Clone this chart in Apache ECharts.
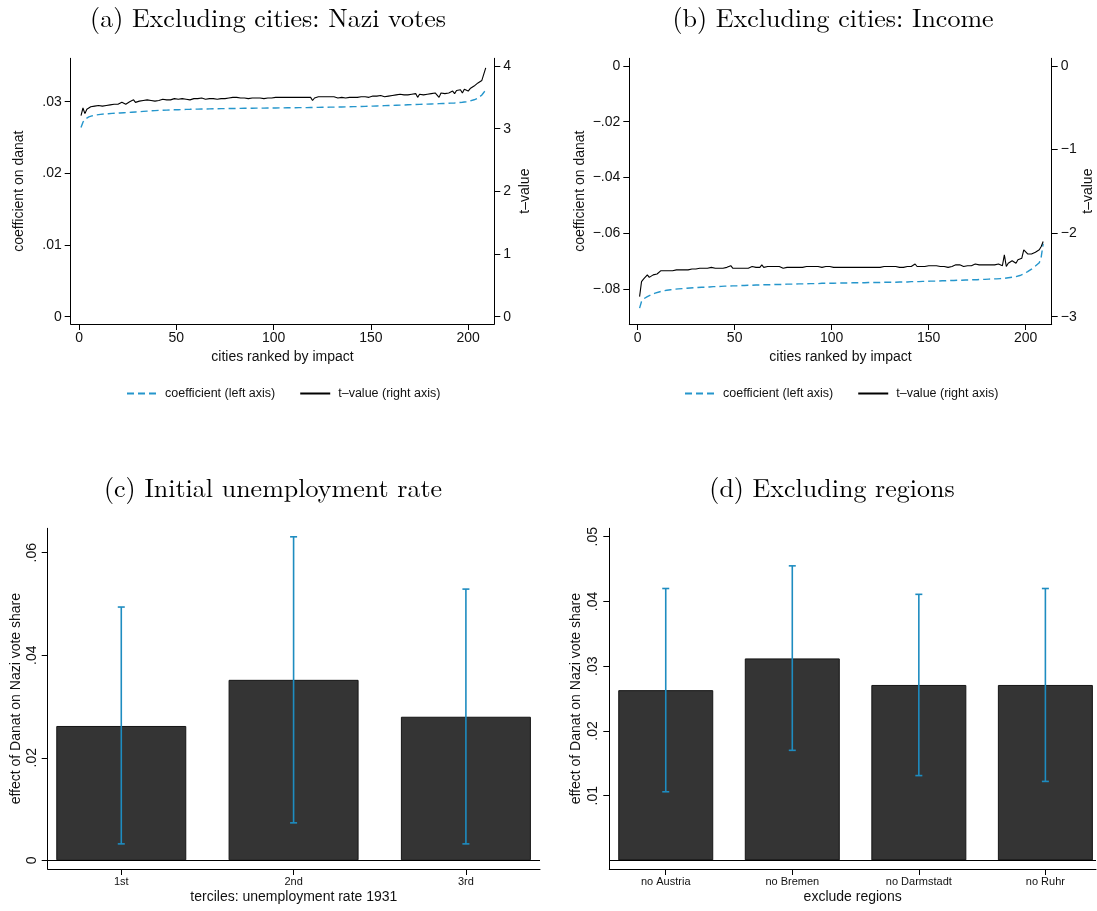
<!DOCTYPE html>
<html><head><meta charset="utf-8">
<script src="https://cdn.jsdelivr.net/npm/echarts@6/dist/echarts.min.js"></script>
<style>html,body{margin:0;padding:0;background:#fff}#c{width:1097px;height:911px}</style>
</head><body><div id="c"></div>
<script>
// ---------- DATA ----------
const panelTitles = ['(a) Excluding cities: Nazi votes', '(b) Excluding cities: Income', '(c) Initial unemployment rate', '(d) Excluding regions'];
const seriesNames = ['coefficient (left axis)', 't\u2013value (right axis)'];
const xTicksTop = [0, 50, 100, 150, 200];
const yTicksA = [0, 0.01, 0.02, 0.03];
const yTicksAR = [0, 1, 2, 3, 4];
const yTicksB = [0, -0.02, -0.04, -0.06, -0.08];
const yTicksBR = [0, -1, -2, -3];
const yTicksC = [0, 0.02, 0.04, 0.06];
const yTicksD = [0.01, 0.02, 0.03, 0.04, 0.05];

// (a) coefficient on danat, cities 1..209
const coefA = [
.02640,.02715,.02755,.02775,.02788,.02798,.02805,.02811,.02816,.02820,
.02823,.02826,.02829,.02831,.02833,.02835,.02837,.02838,.02840,.02841,
.02843,.02844,.02846,.02847,.02849,.02851,.02853,.02855,.02857,.02859,
.02861,.02863,.02865,.02867,.02869,.02871,.02873,.02875,.02876,.02878,
.02879,.02880,.02881,.02882,.02883,.02884,.02885,.02886,.02887,.02888,
.02889,.02890,.02891,.02892,.02893,.02893,.02894,.02895,.02896,.02896,
.02897,.02898,.02898,.02899,.02899,.02900,.02900,.02901,.02901,.02902,
.02902,.02903,.02903,.02904,.02904,.02905,.02905,.02905,.02906,.02906,
.02906,.02907,.02907,.02907,.02908,.02908,.02908,.02909,.02909,.02909,
.02910,.02910,.02910,.02911,.02911,.02911,.02912,.02912,.02912,.02913,
.02913,.02913,.02914,.02914,.02914,.02915,.02915,.02915,.02916,.02916,
.02916,.02917,.02917,.02917,.02918,.02918,.02918,.02919,.02919,.02920,
.02920,.02920,.02921,.02921,.02922,.02922,.02923,.02923,.02924,.02924,
.02925,.02925,.02926,.02926,.02927,.02928,.02928,.02929,.02930,.02930,
.02931,.02932,.02932,.02933,.02934,.02935,.02935,.02936,.02937,.02938,
.02939,.02940,.02941,.02942,.02943,.02944,.02945,.02946,.02947,.02948,
.02949,.02950,.02951,.02952,.02953,.02954,.02955,.02956,.02957,.02958,
.02959,.02960,.02961,.02962,.02963,.02964,.02965,.02966,.02967,.02968,
.02969,.02970,.02971,.02972,.02973,.02974,.02975,.02976,.02977,.02978,
.02980,.02981,.02983,.02985,.02987,.02989,.02992,.02995,.02999,.03004,
.03010,.03018,.03027,.03037,.03048,.03072,.03094,.03128,.03172];
// (a) t-value
const tA = [
3.21,3.33,3.24,3.31,3.33,3.35,3.34,3.36,3.33,3.37,
3.39,3.36,3.38,3.37,3.39,3.38,3.40,3.39,3.41,3.39,
3.40,3.42,3.40,3.39,3.41,3.43,3.41,3.46,3.42,3.43,
3.44,3.43,3.45,3.44,3.46,3.44,3.45,3.46,3.44,3.46,
3.45,3.46,3.47,3.45,3.46,3.47,3.46,3.47,3.48,3.46,
3.47,3.45,3.48,3.46,3.47,3.49,3.46,3.47,3.48,3.47,
3.48,3.47,3.49,3.48,3.47,3.49,3.48,3.49,3.48,3.49,
3.47,3.45,3.48,3.49,3.48,3.50,3.49,3.48,3.50,3.49,
3.50,3.48,3.49,3.50,3.49,3.50,3.48,3.50,3.49,3.50,
3.49,3.50,3.49,3.50,3.48,3.50,3.49,3.50,3.49,3.48,
3.50,3.50,3.50,3.51,3.50,3.51,3.50,3.51,3.50,3.51,
3.50,3.51,3.50,3.51,3.50,3.51,3.50,3.51,3.50,3.45,
3.49,3.50,3.51,3.50,3.51,3.50,3.51,3.50,3.51,3.50,
3.51,3.50,3.49,3.51,3.50,3.51,3.49,3.51,3.50,3.49,
3.50,3.51,3.50,3.52,3.51,3.49,3.51,3.52,3.50,3.51,
3.52,3.50,3.52,3.51,3.53,3.52,3.51,3.53,3.52,3.54,
3.53,3.52,3.54,3.53,3.55,3.53,3.54,3.55,3.54,3.53,
3.55,3.54,3.56,3.50,3.55,3.56,3.54,3.56,3.55,3.57,
3.56,3.55,3.57,3.58,3.50,3.57,3.58,3.56,3.59,3.57,
3.58,3.60,3.56,3.61,3.58,3.62,3.57,3.63,3.61,3.60,
3.64,3.66,3.68,3.70,3.73,3.74,3.77,3.75,3.97];
// (b) coefficient on danat (income)
const coefB = [
-.0869,-.0845,-.0836,-.0832,-.0828,-.0824,-.0821,-.0818,-.0815,-.0813,
-.0811,-.0809,-.0807,-.0806,-.0805,-.0804,-.0803,-.0802,-.0801,-.0800,
-.0800,-.0799,-.0799,-.0798,-.0798,-.0797,-.0797,-.0796,-.0796,-.0795,
-.0795,-.0795,-.0794,-.0794,-.0794,-.0793,-.0793,-.0793,-.0792,-.0792,
-.0792,-.0791,-.0791,-.0791,-.0790,-.0790,-.0790,-.0789,-.0789,-.0789,
-.0789,-.0788,-.0788,-.0788,-.0788,-.0787,-.0787,-.0787,-.0787,-.0786,
-.0786,-.0786,-.0786,-.0786,-.0785,-.0785,-.0785,-.0785,-.0785,-.0784,
-.0784,-.0784,-.0784,-.0784,-.0784,-.0783,-.0783,-.0783,-.0783,-.0783,
-.0783,-.0782,-.0782,-.0782,-.0782,-.0782,-.0782,-.0781,-.0781,-.0781,
-.0781,-.0781,-.0781,-.0781,-.0780,-.0780,-.0780,-.0780,-.0780,-.0780,
-.0780,-.0780,-.0779,-.0779,-.0779,-.0779,-.0779,-.0779,-.0779,-.0779,
-.0778,-.0778,-.0778,-.0778,-.0778,-.0778,-.0778,-.0778,-.0777,-.0777,
-.0777,-.0777,-.0777,-.0777,-.0777,-.0777,-.0776,-.0776,-.0776,-.0776,
-.0776,-.0776,-.0776,-.0775,-.0775,-.0775,-.0775,-.0775,-.0775,-.0774,
-.0774,-.0774,-.0774,-.0774,-.0774,-.0773,-.0773,-.0773,-.0773,-.0773,
-.0772,-.0772,-.0772,-.0772,-.0772,-.0771,-.0771,-.0771,-.0771,-.0770,
-.0770,-.0770,-.0770,-.0769,-.0769,-.0769,-.0769,-.0768,-.0768,-.0768,
-.0768,-.0767,-.0767,-.0767,-.0767,-.0766,-.0766,-.0766,-.0766,-.0765,
-.0765,-.0765,-.0764,-.0764,-.0764,-.0763,-.0763,-.0762,-.0762,-.0761,
-.0760,-.0759,-.0758,-.0757,-.0756,-.0754,-.0752,-.0749,-.0746,-.0742,
-.0738,-.0734,-.0729,-.0724,-.0718,-.0711,-.0706,-.0685,-.0638];
// (b) t-value
const tB = [
-2.76,-2.58,-2.55,-2.54,-2.50,-2.53,-2.52,-2.50,-2.51,-2.49,
-2.49,-2.45,-2.46,-2.45,-2.46,-2.45,-2.47,-2.45,-2.46,-2.44,
-2.46,-2.44,-2.45,-2.44,-2.45,-2.44,-2.45,-2.43,-2.44,-2.43,
-2.44,-2.42,-2.43,-2.42,-2.44,-2.42,-2.43,-2.41,-2.43,-2.42,
-2.43,-2.42,-2.41,-2.42,-2.43,-2.41,-2.42,-2.39,-2.42,-2.41,
-2.42,-2.40,-2.42,-2.41,-2.42,-2.40,-2.42,-2.41,-2.40,-2.42,
-2.41,-2.40,-2.41,-2.38,-2.41,-2.42,-2.40,-2.41,-2.40,-2.41,
-2.40,-2.41,-2.40,-2.41,-2.42,-2.40,-2.41,-2.39,-2.41,-2.40,
-2.41,-2.40,-2.41,-2.40,-2.41,-2.40,-2.40,-2.38,-2.40,-2.41,
-2.40,-2.41,-2.40,-2.40,-2.41,-2.40,-2.40,-2.41,-2.40,-2.40,
-2.41,-2.40,-2.41,-2.40,-2.41,-2.40,-2.41,-2.40,-2.41,-2.40,
-2.41,-2.40,-2.41,-2.40,-2.41,-2.40,-2.41,-2.40,-2.41,-2.40,
-2.41,-2.40,-2.41,-2.40,-2.41,-2.40,-2.40,-2.39,-2.40,-2.41,
-2.40,-2.41,-2.40,-2.40,-2.41,-2.40,-2.41,-2.40,-2.40,-2.41,
-2.40,-2.39,-2.37,-2.40,-2.39,-2.40,-2.39,-2.40,-2.40,-2.39,
-2.40,-2.39,-2.40,-2.39,-2.39,-2.40,-2.38,-2.40,-2.39,-2.41,
-2.39,-2.40,-2.39,-2.38,-2.39,-2.38,-2.39,-2.40,-2.38,-2.39,
-2.37,-2.39,-2.38,-2.37,-2.39,-2.38,-2.36,-2.38,-2.37,-2.38,
-2.36,-2.38,-2.37,-2.38,-2.37,-2.37,-2.36,-2.39,-2.26,-2.40,
-2.36,-2.37,-2.33,-2.34,-2.36,-2.32,-2.34,-2.30,-2.20,-2.19,
-2.25,-2.26,-2.25,-2.24,-2.23,-2.21,-2.20,-2.16,-2.10];

// (c) terciles of unemployment rate 1931
const catsC = ['1st', '2nd', '3rd'];
const estC = [0.0262, 0.0352, 0.0280];
const loC = [0.0032, 0.0073, 0.0032];
const hiC = [0.0494, 0.0631, 0.0529];
// (d) excluding regions
const catsD = ['no Austria', 'no Bremen', 'no Darmstadt', 'no Ruhr'];
const estD = [0.0263, 0.0312, 0.0271, 0.0271];
const loD = [0.0106, 0.0170, 0.0131, 0.0122];
const hiD = [0.0420, 0.0455, 0.0411, 0.0420];

// ---------- STYLE ----------
const SANS = "'Liberation Sans', Arial, Helvetica, sans-serif";
const SERIF = "'Latin Modern Roman','CMU Serif','Liberation Serif', serif";
const TXT = '#111';
const BLUE = '#2596cc';
const ERR = '#1e8cc0';

function fmt(v) {
  if (v === 0) return '0';
  const s = String(Math.abs(+v.toFixed(6))).replace(/^0\./, '.');
  return (v < 0 ? '\u2212' : '') + s;
}
const axLine = { show: true, onZero: false, lineStyle: { color: '#000', width: 1 } };

function xTop(grid) {
  return {
    type: 'value', gridIndex: grid, min: -4.3, max: 213.4,
    axisLine: axLine, splitLine: { show: false },
    axisTick: { show: true, length: 6, lineStyle: { color: '#000' }, customValues: xTicksTop },
    axisLabel: { fontFamily: SANS, fontSize: 14, color: TXT, margin: 7, customValues: xTicksTop, formatter: fmt },
    name: 'cities ranked by impact', nameLocation: 'middle', nameGap: 26,
    nameTextStyle: { fontFamily: SANS, fontSize: 14, color: TXT }
  };
}
function yAx(grid, pos, min, max, ticks, name, nameGap, rotate, fs) {
  return {
    type: 'value', gridIndex: grid, position: pos, min: min, max: max,
    axisLine: axLine, splitLine: { show: false },
    axisTick: { show: true, length: 6, lineStyle: { color: '#000' }, customValues: ticks },
    axisLabel: { fontFamily: SANS, fontSize: fs, color: TXT, margin: 9, rotate: rotate, customValues: ticks, formatter: fmt },
    name: name, nameLocation: 'middle', nameGap: nameGap, nameRotate: 90,
    nameTextStyle: { fontFamily: SANS, fontSize: 14, color: TXT }
  };
}
function xBottom(grid, min, max, cats, name) {
  const vals = cats.map((c, i) => i + 1);
  return {
    type: 'value', gridIndex: grid, min: min, max: max,
    axisLine: axLine, splitLine: { show: false },
    axisTick: { show: true, length: 6, lineStyle: { color: '#000' }, customValues: vals },
    axisLabel: { fontFamily: SANS, fontSize: 11, color: TXT, margin: 7, customValues: vals, formatter: v => cats[Math.round(v) - 1] },
    name: name, nameLocation: 'middle', nameGap: 21,
    nameTextStyle: { fontFamily: SANS, fontSize: 14, color: TXT }
  };
}
function lineSeries(name, xi, yi, vals, dashed) {
  return {
    name: name, type: 'line', xAxisIndex: xi, yAxisIndex: yi,
    data: vals.map((v, i) => [i + 1, v]),
    symbol: 'none', showSymbol: false, silent: true, z: dashed ? 3 : 4,
    lineStyle: dashed ? { color: BLUE, width: 1.4, type: [7, 4] } : { color: '#000', width: 1.1 },
    itemStyle: { color: dashed ? BLUE : '#000' }
  };
}
function barSeries(xi, yi, est, width) {
  return {
    type: 'bar', xAxisIndex: xi, yAxisIndex: yi, barWidth: width, silent: true,
    data: est.map((v, i) => [i + 1, v]),
    itemStyle: { color: '#343434', borderColor: '#151515', borderWidth: 1 },
    markLine: { silent: true, symbol: 'none', label: { show: false },
      lineStyle: { color: '#000', type: 'solid', width: 1 }, data: [{ yAxis: 0 }] }
  };
}
function errSeries(xi, yi, lo, hi) {
  return {
    type: 'custom', xAxisIndex: xi, yAxisIndex: yi, silent: true, z: 10,
    data: lo.map((l, i) => [i + 1, l, hi[i]]),
    encode: { x: 0, y: [1, 2] },
    renderItem: function (params, api) {
      const x = api.value(0);
      const p1 = api.coord([x, api.value(1)]);
      const p2 = api.coord([x, api.value(2)]);
      const w = 3.5;
      const st = { stroke: ERR, lineWidth: 1.6 };
      return { type: 'group', children: [
        { type: 'line', shape: { x1: p1[0], y1: p1[1], x2: p2[0], y2: p2[1] }, style: st },
        { type: 'line', shape: { x1: p1[0] - w, y1: p1[1], x2: p1[0] + w, y2: p1[1] }, style: st },
        { type: 'line', shape: { x1: p2[0] - w, y1: p2[1], x2: p2[0] + w, y2: p2[1] }, style: st }
      ] };
    }
  };
}
function legendAt(left) {
  return {
    left: left, top: 382, itemWidth: 30, itemHeight: 14, itemGap: 24,
    data: seriesNames, selectedMode: false,
    itemStyle: { opacity: 0, borderWidth: 0 },
    textStyle: { fontFamily: SANS, fontSize: 12.5, color: TXT, padding: [0, 0, 0, 3] }
  };
}
function titleAt(text, x, top) {
  return { text: text, left: x, top: top, textAlign: 'center',
    textStyle: { fontFamily: SERIF, fontSize: 26, fontWeight: 'normal', color: '#000' } };
}

const chart = echarts.init(document.getElementById('c'), null, { renderer: 'canvas' });
chart.setOption({
  animation: false,
  backgroundColor: '#fff',
  title: [
    titleAt(panelTitles[0], 263, 1),
    titleAt(panelTitles[1], 828, 1),
    titleAt(panelTitles[2], 268, 471),
    titleAt(panelTitles[3], 827, 471)
  ],
  legend: [legendAt(121), legendAt(679)],
  grid: [
    { left: 70.7, top: 58.3, width: 423.6, height: 265.7 },
    { left: 629.3, top: 58.3, width: 422.4, height: 265.7 },
    { left: 47.7, top: 528.3, width: 492.3, height: 340.7 },
    { left: 609.3, top: 528.3, width: 486.7, height: 340.7 }
  ],
  xAxis: [
    xTop(0), xTop(1),
    xBottom(2, 0.573, 3.43, catsC, 'terciles: unemployment rate 1931'),
    xBottom(3, 0.554, 4.40, catsD, 'exclude regions')
  ],
  yAxis: [
    yAx(0, 'left', -0.00102, 0.03606, yTicksA, 'coefficient on danat', 45, 0, 14),
    yAx(0, 'right', -0.116, 4.123, yTicksAR, 't\u2013value', 24, 0, 14),
    yAx(1, 'left', -0.0926, 0.00276, yTicksB, 'coefficient on danat', 42, 0, 14),
    yAx(1, 'right', -3.088, 0.092, yTicksBR, 't\u2013value', 29, 0, 14),
    yAx(2, 'left', -0.0017, 0.06476, yTicksC, 'effect of Danat on Nazi vote share', 25, 90, 14),
    yAx(3, 'left', -0.00133, 0.0513, yTicksD, 'effect of Danat on Nazi vote share', 26, 90, 14)
  ],
  series: [
    lineSeries(seriesNames[0], 0, 0, coefA, true),
    lineSeries(seriesNames[1], 0, 1, tA, false),
    lineSeries(seriesNames[0], 1, 2, coefB, true),
    lineSeries(seriesNames[1], 1, 3, tB, false),
    barSeries(2, 4, estC, 130),
    errSeries(2, 4, loC, hiC),
    barSeries(3, 5, estD, 95),
    errSeries(3, 5, loD, hiD)
  ]
});
</script>
</body></html>
